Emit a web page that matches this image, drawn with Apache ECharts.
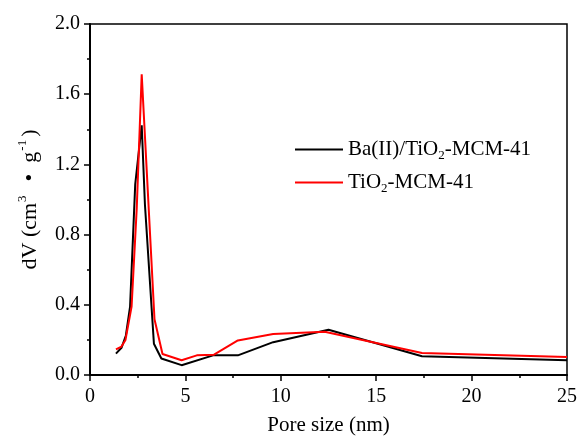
<!DOCTYPE html>
<html>
<head>
<meta charset="utf-8">
<script src="https://cdn.jsdelivr.net/npm/echarts@6/dist/echarts.min.js"></script>
<style>html,body{margin:0;padding:0;background:#fff;}#c{width:580px;height:441px;}</style>
</head>
<body>
<div id="c"></div>
<script>
const xTicks = [0, 5, 10, 15, 20, 25];
const yTicks = [0.0, 0.4, 0.8, 1.2, 1.6, 2.0];

const baName = 'Ba(II)/TiO2-MCM-41';
const baX = [1.36, 1.65, 1.88, 2.1, 2.37, 2.71, 2.88, 3.35, 3.74, 4.8, 6.45, 7.75, 9.6, 12.5, 17.4, 25];
const baY = [0.122, 0.155, 0.225, 0.39, 1.086, 1.423, 0.97, 0.178, 0.094, 0.056, 0.112, 0.112, 0.187, 0.258, 0.107, 0.084];

const tiName = 'TiO2-MCM-41';
const tiX = [1.36, 1.65, 1.86, 2.18, 2.45, 2.71, 3.38, 3.8, 4.8, 5.6, 6.5, 7.75, 9.6, 12.3, 17.4, 25];
const tiY = [0.146, 0.162, 0.2, 0.39, 0.95, 1.713, 0.318, 0.12, 0.084, 0.112, 0.116, 0.197, 0.234, 0.247, 0.125, 0.103];

const font = '"Liberation Serif", "Times New Roman", serif';

function pairs(xs, ys) { return xs.map((x, i) => [x, ys[i]]); }

const chart = echarts.init(document.getElementById('c'), null, {renderer: 'canvas'});
chart.setOption({
  animation: false,
  backgroundColor: '#fff',
  grid: {left: 90, right: 11, top: 24, bottom: 61, show: true, borderColor: '#000', borderWidth: 1.5, backgroundColor: 'transparent'},
  legend: {
    orient: 'vertical', left: 295, top: 137, padding: 0, itemWidth: 48, itemHeight: 2, itemGap: 8,
    icon: 'rect',
    data: [baName, tiName],
    formatter: n => n.replace('TiO2', 'TiO{s|2}'),
    textStyle: {
      fontFamily: font, fontSize: 21, color: '#000', lineHeight: 25,
      rich: {s: {fontFamily: font, fontSize: 13, color: '#000', verticalAlign: 'bottom', lineHeight: 13}}
    }
  },
  xAxis: {
    type: 'value', min: xTicks[0], max: xTicks[xTicks.length - 1], interval: 5,
    name: 'Pore size (nm)', nameLocation: 'middle', nameGap: 40,
    nameTextStyle: {fontFamily: font, fontSize: 21, color: '#000'},
    axisLine: {show: true, onZero: false, lineStyle: {color: '#000', width: 2}},
    axisTick: {show: true, length: 6, lineStyle: {color: '#000', width: 1.5}},
    minorTick: {show: true, splitNumber: 2, length: 3, lineStyle: {color: '#000', width: 1.5}},
    splitLine: {show: false},
    axisLabel: {fontFamily: font, fontSize: 20, color: '#000', margin: 12}
  },
  yAxis: {
    type: 'value', min: yTicks[0], max: yTicks[yTicks.length - 1], interval: 0.4,
    name: 'dV (cm{p|3}  •  g{p|-1})', nameLocation: 'middle', nameGap: 44, nameRotate: 90,
    nameTextStyle: {
      fontFamily: font, fontSize: 22, color: '#000', lineHeight: 28,
      rich: {p: {fontFamily: font, fontSize: 13, color: '#000', verticalAlign: 'top', lineHeight: 13, padding: [0, 3, 0, 1]}}
    },
    axisLine: {show: true, onZero: false, lineStyle: {color: '#000', width: 2}},
    axisTick: {show: true, length: 6, lineStyle: {color: '#000', width: 1.5}},
    minorTick: {show: true, splitNumber: 2, length: 3, lineStyle: {color: '#000', width: 1.5}},
    splitLine: {show: false},
    axisLabel: {fontFamily: font, fontSize: 20, color: '#000', margin: 10, formatter: v => v.toFixed(1)}
  },
  series: [
    {name: baName, type: 'line', data: pairs(baX, baY), symbol: 'none', lineStyle: {color: '#000', width: 2}, itemStyle: {color: '#000'}},
    {name: tiName, type: 'line', data: pairs(tiX, tiY), symbol: 'none', lineStyle: {color: '#ff0000', width: 2}, itemStyle: {color: '#ff0000'}}
  ]
});
</script>
</body>
</html>
